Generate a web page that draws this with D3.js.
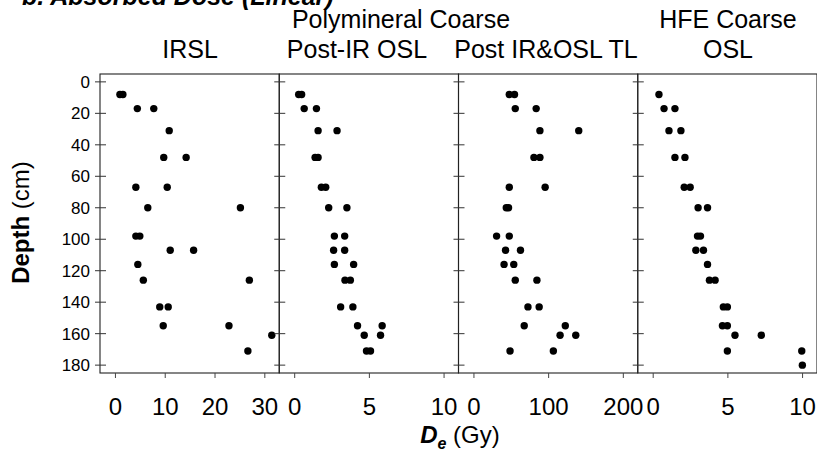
<!DOCTYPE html>
<html><head><meta charset="utf-8">
<script src="https://cdn.jsdelivr.net/npm/d3@7"></script>
<style>
html,body{margin:0;padding:0;background:#fff;}
svg{display:block;font-family:"Liberation Sans",Arial,sans-serif;}
</style></head>
<body><svg id="c" width="817" height="461"></svg>
<script>
// Data
const depthIRSL = [8,8,17,17,31,48,48,67,67,80,80,98,98,107,107,116,126,126,143,143,155,155,161,171];
const valIRSL   = [1.0,1.6,4.5,7.8,10.9,9.8,14.3,4.2,10.5,6.6,25.2,4.2,5.0,11.1,15.8,4.6,5.7,27.0,9.0,10.7,9.7,22.9,31.5,26.7];

const depthPostIR = [8,8,17,17,31,31,48,48,67,67,80,80,98,98,107,107,116,116,126,126,143,143,155,155,161,161,171,171];
const valPostIR   = [0.3,0.5,0.67,1.49,1.6,2.87,1.4,1.6,1.82,2.11,2.31,3.53,2.69,3.38,2.64,3.38,2.69,3.98,3.4,3.76,3.11,3.93,4.24,5.89,4.69,5.78,4.84,5.11];

const depthTL = [8,8,17,17,31,31,48,48,67,67,80,80,98,98,107,107,116,116,126,126,143,143,155,155,161,161,171,171];
const valTL   = [48,55,56,84,89,141,81,89,48,96,44,47,31,48,43,63,41,54,56,85,73,88,68,123,116,137,49,107];

const depthHFE = [8,17,17,31,31,48,48,67,67,80,80,98,98,107,107,116,126,126,143,143,155,155,161,161,171,171,180];
const valHFE   = [0.42,0.76,1.49,1.09,1.89,1.49,2.16,2.11,2.51,3.04,3.67,3.0,3.2,2.89,3.4,3.67,3.8,4.18,4.73,5.0,4.67,5.0,5.51,7.27,5.0,9.98,10.02];

const panelTitles = [["IRSL"],["Post-IR OSL"],["Post IR&OSL TL"],["HFE Coarse","OSL"]];
const groupTitle = "Polymineral Coarse";
const xDomains = [[-3,33],[-1,11],[-20,220],[-1,11]];
const xTicks = [[0,10,20,30],[0,5,10],[0,100,200],[0,5,10]];
const yDomain = [-5,185];
const yTicks = [0,20,40,60,80,100,120,140,160,180];
const panels = [
  {d:depthIRSL, v:valIRSL},
  {d:depthPostIR, v:valPostIR},
  {d:depthTL, v:valTL},
  {d:depthHFE, v:valHFE}
];

const svg = d3.select("#c");
const mLeft = 100, mTop = 74, mBottom = 373, pw = 179.25;
const titleX = [190, 357, 546, 728];
const y = d3.scaleLinear().domain(yDomain).range([mTop, mBottom]);

// Title (cut off at top, as in the original figure)
svg.append("text").attr("x",22).attr("y",5)
  .attr("font-size",25).attr("font-weight","bold").attr("font-style","italic")
  .text("b. Absorbed Dose (Linear)");

panels.forEach((p,i)=>{
  const x0 = mLeft + i*pw, x1 = x0 + pw;
  const x = d3.scaleLinear().domain(xDomains[i]).range([x0, x1]);
  const g = svg.append("g");
  g.append("rect").attr("x",x0).attr("y",mTop).attr("width",pw).attr("height",mBottom-mTop)
    .attr("fill","none").attr("stroke","#222").attr("stroke-width",1.1);
  g.selectAll("line.yt").data(yTicks).join("line").attr("class","yt")
    .attr("x1",x0-5).attr("x2",x0+6)
    .attr("y1",d=>y(d)).attr("y2",d=>y(d))
    .attr("stroke","#333").attr("stroke-width",1);
  const ax = d3.axisBottom(x).tickValues(xTicks[i]).tickSize(5).tickPadding(4).tickFormat(d3.format("d"));
  const axg = g.append("g").attr("transform",`translate(0,${mBottom})`).call(ax);
  axg.select(".domain").remove();
  axg.selectAll(".tick line").attr("stroke","#444");
  axg.selectAll(".tick text").attr("font-size",24).attr("fill","#000")
     .attr("font-family","Liberation Sans, Arial, sans-serif").attr("y",42).attr("dy",0);
  g.selectAll("circle").data(p.d.map((d,k)=>({d, v:p.v[k]}))).join("circle")
    .attr("cx",o=>x(o.v)).attr("cy",o=>y(o.d)).attr("r",3.7).attr("fill","#000");
  const t = panelTitles[i];
  t.forEach((s,k)=>{
    svg.append("text").attr("x",titleX[i]).attr("y",58 - (t.length-1-k)*30)
      .attr("text-anchor","middle").attr("font-size",25).text(s);
  });
});
svg.append("text").attr("x",401).attr("y",28).attr("text-anchor","middle")
  .attr("font-size",25).text(groupTitle);

svg.append("g").selectAll("text").data(yTicks).join("text")
  .attr("x",90).attr("y",d=>y(d)).attr("dy","0.35em").attr("text-anchor","end")
  .attr("font-size",17).text(d=>d);

const yl = svg.append("text").attr("transform",`translate(29,${(mTop+mBottom)/2 - 1}) rotate(-90)`)
  .attr("text-anchor","middle").attr("font-size",24);
yl.append("tspan").attr("font-weight","bold").text("Depth");
yl.append("tspan").text(" (cm)");

const xl = svg.append("text").attr("x",460).attr("y",443).attr("text-anchor","middle").attr("font-size",24);
xl.append("tspan").attr("font-weight","bold").attr("font-style","italic").text("D");
xl.append("tspan").attr("font-weight","bold").attr("font-style","italic").attr("font-size",16).attr("dy",6).text("e");
xl.append("tspan").attr("dy",-6).text(" (Gy)");
</script></body></html>
